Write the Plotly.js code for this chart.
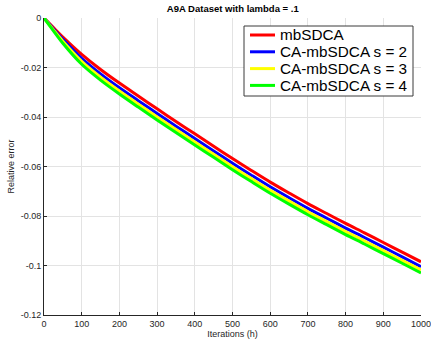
<!DOCTYPE html>
<html>
<head>
<meta charset="utf-8">
<script src="https://cdn.plot.ly/plotly-3.0.1.min.js"></script>
<style>
  html, body { margin: 0; padding: 0; background: #fff; }
  #chart { width: 431px; height: 339px; }
</style>
</head>
<body>
<div id="chart"></div>
<script>
// Iteration counts (h) at which the relative error was sampled
const iterations = [0, 25, 50, 100, 150, 200, 250, 300, 350, 400, 450, 500,
                    550, 600, 650, 700, 750, 800, 850, 900, 950, 1000];

// Relative error for each solver
const mbSDCA = [0, -0.0039, -0.0077, -0.0147, -0.0208, -0.0263, -0.0315, -0.0367,
                -0.0418, -0.0468, -0.0518, -0.0568, -0.0616, -0.0663, -0.0707,
                -0.0750, -0.0790, -0.0830, -0.0868, -0.0907, -0.0946, -0.0985];
const caS2 = [0, -0.0044, -0.0086, -0.0163, -0.0226, -0.0282, -0.0334, -0.0386,
              -0.0437, -0.0487, -0.0537, -0.0587, -0.0635, -0.0682, -0.0726,
              -0.0769, -0.0809, -0.0849, -0.0887, -0.0926, -0.0965, -0.1005];
const caS3 = [0, -0.0048, -0.0094, -0.0175, -0.0239, -0.0295, -0.0348, -0.0400,
              -0.0451, -0.0501, -0.0551, -0.0601, -0.0649, -0.0696, -0.0740,
              -0.0783, -0.0823, -0.0863, -0.0901, -0.0940, -0.0979, -0.1018];
const caS4 = [0, -0.0052, -0.0102, -0.0187, -0.0251, -0.0307, -0.0360, -0.0412,
              -0.0463, -0.0513, -0.0563, -0.0613, -0.0661, -0.0708, -0.0752,
              -0.0795, -0.0835, -0.0875, -0.0913, -0.0952, -0.0991, -0.1030];

const seriesNames = ['mbSDCA', 'CA-mbSDCA s = 2', 'CA-mbSDCA s = 3', 'CA-mbSDCA s = 4'];
const seriesValues = [mbSDCA, caS2, caS3, caS4];
const seriesColors = ['#ff0000', '#0000ff', '#ffff00', '#00ff00'];

const xTicks = [0, 100, 200, 300, 400, 500, 600, 700, 800, 900, 1000];
const yTicks = [0, -0.02, -0.04, -0.06, -0.08, -0.1, -0.12];
const yTickText = ['0', '-0.02', '-0.04', '-0.06', '-0.08', '-0.1', '-0.12'];

const traces = seriesNames.map((name, i) => ({
  x: iterations,
  y: seriesValues[i],
  name: name,
  type: 'scatter',
  mode: 'lines',
  showlegend: false,
  line: { color: seriesColors[i], width: 3, shape: 'spline', smoothing: 0.8 }
}));

const font = 'Liberation Sans, Arial, Helvetica, sans-serif';

// Compact MATLAB-style legend box in the upper right, drawn in paper units
const W = 431, H = 339, ML = 44, MR = 10, MT = 18, MB = 24;
const PW = W - ML - MR, PH = H - MT - MB;
const px = v => (v - ML) / PW;          // page x pixel -> paper x
const py = v => 1 - (v - MT) / PH;      // page y pixel -> paper y
const legendBox = { x0: 244, x1: 413, y0: 26, y1: 96 };
const rowTop = 35, rowStep = 16.8;
const sampleX0 = 250, sampleX1 = 275, textX = 278;

const shapes = [{
  type: 'rect', xref: 'paper', yref: 'paper',
  x0: px(legendBox.x0), x1: px(legendBox.x1),
  y0: py(legendBox.y1), y1: py(legendBox.y0),
  fillcolor: '#ffffff', line: { color: '#3a3a3a', width: 1 }, layer: 'above'
}];
const annotations = [];
seriesNames.forEach((name, i) => {
  const yc = rowTop + i * rowStep;
  shapes.push({
    type: 'line', xref: 'paper', yref: 'paper',
    x0: px(sampleX0), x1: px(sampleX1), y0: py(yc), y1: py(yc),
    line: { color: seriesColors[i], width: 3 }, layer: 'above'
  });
  annotations.push({
    xref: 'paper', yref: 'paper', x: px(textX), y: py(yc),
    xanchor: 'left', yanchor: 'middle', showarrow: false,
    text: name, font: { family: font, size: 15.3, color: '#000' }
  });
});

const layout = {
  width: W,
  height: H,
  margin: { l: ML, r: MR, t: MT, b: MB },
  paper_bgcolor: '#ffffff',
  plot_bgcolor: '#ffffff',
  font: { family: font, size: 9, color: '#262626' },
  showlegend: false,
  title: {
    text: '<b>A9A Dataset with lambda = .1</b>',
    font: { family: font, size: 9.5, color: '#000' },
    x: 0.54, xanchor: 'center', y: 0.985, yanchor: 'top'
  },
  xaxis: {
    range: [0, 1000],
    tickvals: xTicks,
    ticks: 'inside', ticklen: 3, tickcolor: '#262626',
    showline: true, linecolor: '#262626', linewidth: 1,
    showgrid: true, gridcolor: '#e3e3e3', gridwidth: 1,
    zeroline: false,
    ticklabeloverflow: 'allow',
    tickfont: { size: 9, color: '#262626' },
    title: { text: 'Iterations (h)', font: { size: 9, color: '#262626' }, standoff: 2 }
  },
  yaxis: {
    range: [-0.12, 0],
    tickvals: yTicks,
    ticktext: yTickText,
    ticks: 'inside', ticklen: 3, tickcolor: '#262626',
    showline: true, linecolor: '#262626', linewidth: 1,
    showgrid: true, gridcolor: '#e3e3e3', gridwidth: 1,
    zeroline: false,
    ticklabeloverflow: 'allow',
    tickfont: { size: 9, color: '#262626' },
    title: { text: 'Relative error', font: { size: 9, color: '#262626' }, standoff: 4 }
  },
  shapes: shapes,
  annotations: annotations
};

Plotly.newPlot('chart', traces, layout, { displayModeBar: false, staticPlot: true });
</script>
</body>
</html>
